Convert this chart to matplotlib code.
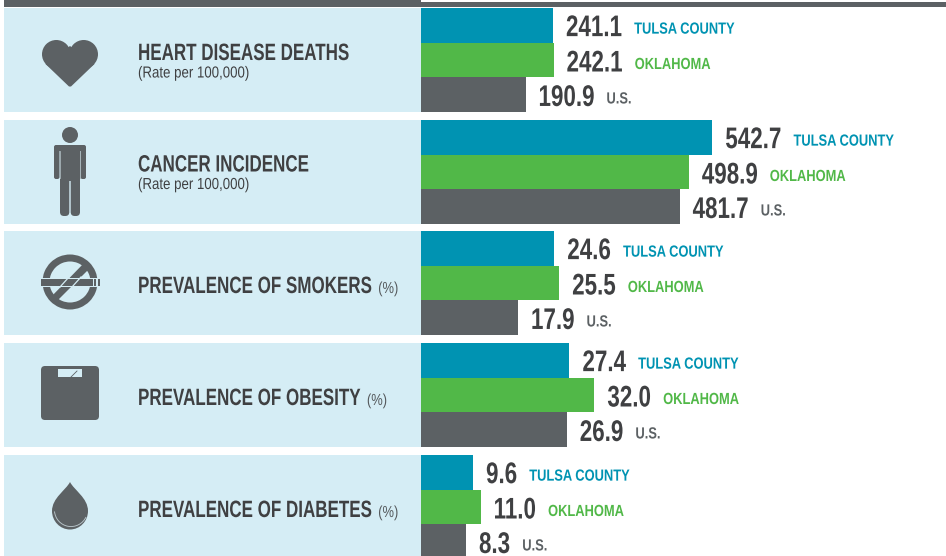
import matplotlib
matplotlib.use('Agg')
import matplotlib.pyplot as plt
from matplotlib.patches import Rectangle, Circle, FancyBboxPatch, PathPatch, Wedge, Polygon
from matplotlib.path import Path
from matplotlib.patheffects import AbstractPathEffect
from matplotlib.transforms import Affine2D, Bbox

plt.rcParams['font.family'] = ['Liberation Sans', 'DejaVu Sans']

# values
series_names = ['TULSA COUNTY', 'OKLAHOMA', 'U.S.']
titles = ['HEART DISEASE DEATHS', 'CANCER INCIDENCE', 'PREVALENCE OF SMOKERS',
          'PREVALENCE OF OBESITY', 'PREVALENCE OF DIABETES']
subtitles = ['(Rate per 100,000)', '(Rate per 100,000)', None, None, None]
units = [None, None, '(%)', '(%)', '(%)']
tulsa = [241.1, 542.7, 24.6, 27.4, 9.6]
oklahoma = [242.1, 498.9, 25.5, 32.0, 11.0]
us = [190.9, 481.7, 17.9, 26.9, 8.3]

# layout, in pixels of the 946x556 picture
W, H = 946, 556
panel_tops = [8, 120, 231, 343, 455]
panel_h = 104
bar_left = 421
axis_max = [959, 978, 96.9, 96.9, 96.9]
title_base = [60, 171.5, 293, 405, 517]
value_drop = [10.8, 11.5, 11.3]

TEAL = '#0093b2'
GREEN = '#51b848'
GRAY = '#5c6164'
PANEL = '#d5edf5'
TEXT = '#3f4042'
colors = [TEAL, GREEN, GRAY]


class Squeeze(AbstractPathEffect):
    # no condensed face is installed, so narrow the glyphs when they are drawn
    def __init__(self, sx):
        super().__init__()
        self.sx = sx

    def draw_path(self, renderer, gc, tpath, affine, rgbFace=None):
        renderer.draw_path(gc, tpath, Affine2D().scale(self.sx, 1) + affine, rgbFace)


def squeeze(t, sx):
    # left aligned text only: the extent shrinks towards its left edge
    t.set_path_effects([Squeeze(sx)])
    full_extent = t.get_window_extent

    def narrow_extent(renderer=None, dpi=None):
        b = full_extent(renderer) if dpi is None else full_extent(renderer, dpi)
        return Bbox.from_extents(b.x0, b.y0, b.x0 + b.width * sx, b.y1)

    t.get_window_extent = narrow_extent
    return t


fig = plt.figure(figsize=(W / 100, H / 100), dpi=100)
bg = fig.add_axes([0, 0, 1, 1])
bg.set_xlim(0, W)
bg.set_ylim(H, 0)
bg.axis('off')

# header rules
bg.add_patch(Rectangle((4, 0), 417, 7, color=GRAY, lw=0))
bg.add_patch(Rectangle((421, 2), W - 421, 5, color=GRAY, lw=0))

for top in panel_tops:
    bg.add_patch(Rectangle((4, top), 417, panel_h, color=PANEL, lw=0))


def heart():
    bg.add_patch(Circle((56.3, 54.3), 14.3, color=GRAY, lw=0))
    bg.add_patch(Circle((83.7, 54.3), 14.3, color=GRAY, lw=0))
    bg.add_patch(Polygon([(45.5, 64), (69, 86.5), (71, 86.5), (94.5, 64), (70, 46)], color=GRAY, lw=0))


def person():
    bg.add_patch(Circle((70, 135), 8, color=GRAY, lw=0))
    bg.add_patch(FancyBboxPatch((54, 145), 5.5, 34, boxstyle='round,pad=0,rounding_size=2', color=GRAY, lw=0))
    bg.add_patch(FancyBboxPatch((80.5, 145), 5.5, 34, boxstyle='round,pad=0,rounding_size=2', color=GRAY, lw=0))
    bg.add_patch(Rectangle((56, 145), 28, 6, color=GRAY, lw=0))
    bg.add_patch(Rectangle((60, 147), 20, 34, color=GRAY, lw=0))
    bg.add_patch(FancyBboxPatch((60, 170), 9.3, 46, boxstyle='round,pad=0,rounding_size=4', color=GRAY, lw=0))
    bg.add_patch(FancyBboxPatch((70.7, 170), 9.3, 46, boxstyle='round,pad=0,rounding_size=4', color=GRAY, lw=0))
    bg.plot([59.7, 59.7], [151, 178], color='#a9b7bc', lw=0.6)
    bg.plot([80.3, 80.3], [151, 178], color='#a9b7bc', lw=0.6)


def no_smoking():
    bg.add_patch(Wedge((70, 282), 27.5, 0, 360, width=7, color=GRAY, lw=0))
    bg.add_patch(Polygon([(50, 298), (55, 303), (90, 268), (85, 262)], color=GRAY, lw=0))
    bg.add_patch(Rectangle((40, 278), 60, 9, color=PANEL, lw=0))
    bg.add_patch(Rectangle((41, 279), 52, 7, color=GRAY, lw=0))
    bg.plot([60, 69], [287, 277], color=PANEL, lw=0.9)
    bg.plot([72, 81], [287, 277], color=PANEL, lw=0.9)
    bg.add_patch(Rectangle((94, 279), 2, 7, color=GRAY, lw=0))
    bg.add_patch(Rectangle((97.5, 279), 2, 7, color=GRAY, lw=0))


def scale_icon():
    bg.add_patch(FancyBboxPatch((41, 366), 58, 54, boxstyle='round,pad=0,rounding_size=4', color=GRAY, lw=0))
    bg.add_patch(Rectangle((58, 369), 24, 8, color=PANEL, lw=0))
    bg.plot([71, 77], [377, 371], color=GRAY, lw=0.6)


def drop():
    verts = [(70, 482), (74, 490), (88, 498), (88, 511), (88, 521), (80, 529.5), (70, 529.5),
             (60, 529.5), (52, 521), (52, 511), (52, 498), (66, 490), (70, 482)]
    codes = [Path.MOVETO] + [Path.CURVE4] * 12
    bg.add_patch(PathPatch(Path(verts, codes), color=GRAY, lw=0))
    bg.add_patch(Wedge((71, 510), 17, 25, 175, width=0.9, color='#b9c6cb', lw=0))


for icon in [heart, person, no_smoking, scale_icon, drop]:
    icon()

fig.canvas.draw()
renderer = fig.canvas.get_renderer()

for i in range(len(titles)):
    t = squeeze(bg.text(138, title_base[i], titles[i], fontsize=17, fontweight='bold', color=TEXT,
                        ha='left', va='baseline'), 0.72)
    if subtitles[i]:
        squeeze(bg.text(138, title_base[i] + 17.5, subtitles[i], fontsize=11.5, color=TEXT,
                        ha='left', va='baseline'), 0.83)
    if units[i]:
        end = t.get_window_extent(renderer).x1
        squeeze(bg.text(end + 6, title_base[i], units[i], fontsize=11.5, color='#55595c',
                        ha='left', va='baseline'), 0.81)

    top = panel_tops[i]
    ax = fig.add_axes([bar_left / W, 1 - (top + panel_h) / H, (W - bar_left) / W, panel_h / H])
    ax.patch.set_alpha(0)
    ax.axis('off')
    ax.set_xlim(0, axis_max[i])
    ax.set_ylim(2.5, -0.5)
    vals = [tulsa[i], oklahoma[i], us[i]]
    ax.barh([0, 1, 2], vals, height=1.0, color=colors, lw=0)
    for j, v in enumerate(vals):
        lab = squeeze(ax.annotate(f'{v:.1f}', (v, j), xytext=(13, -value_drop[j]), textcoords='offset pixels',
                                  fontsize=21.5, fontweight='bold', color=TEXT, ha='left', va='baseline'), 0.75)
        x_px = lab.get_window_extent(renderer).x1 + 12
        base = top + panel_h * (j + 0.5) / 3 + value_drop[j] - 2.5
        squeeze(fig.text(x_px / W, 1 - base / H, series_names[j], fontsize=11.6, fontweight='bold',
                         color=colors[j], ha='left', va='baseline'), 0.8)

fig.savefig('out.png', dpi=100)
